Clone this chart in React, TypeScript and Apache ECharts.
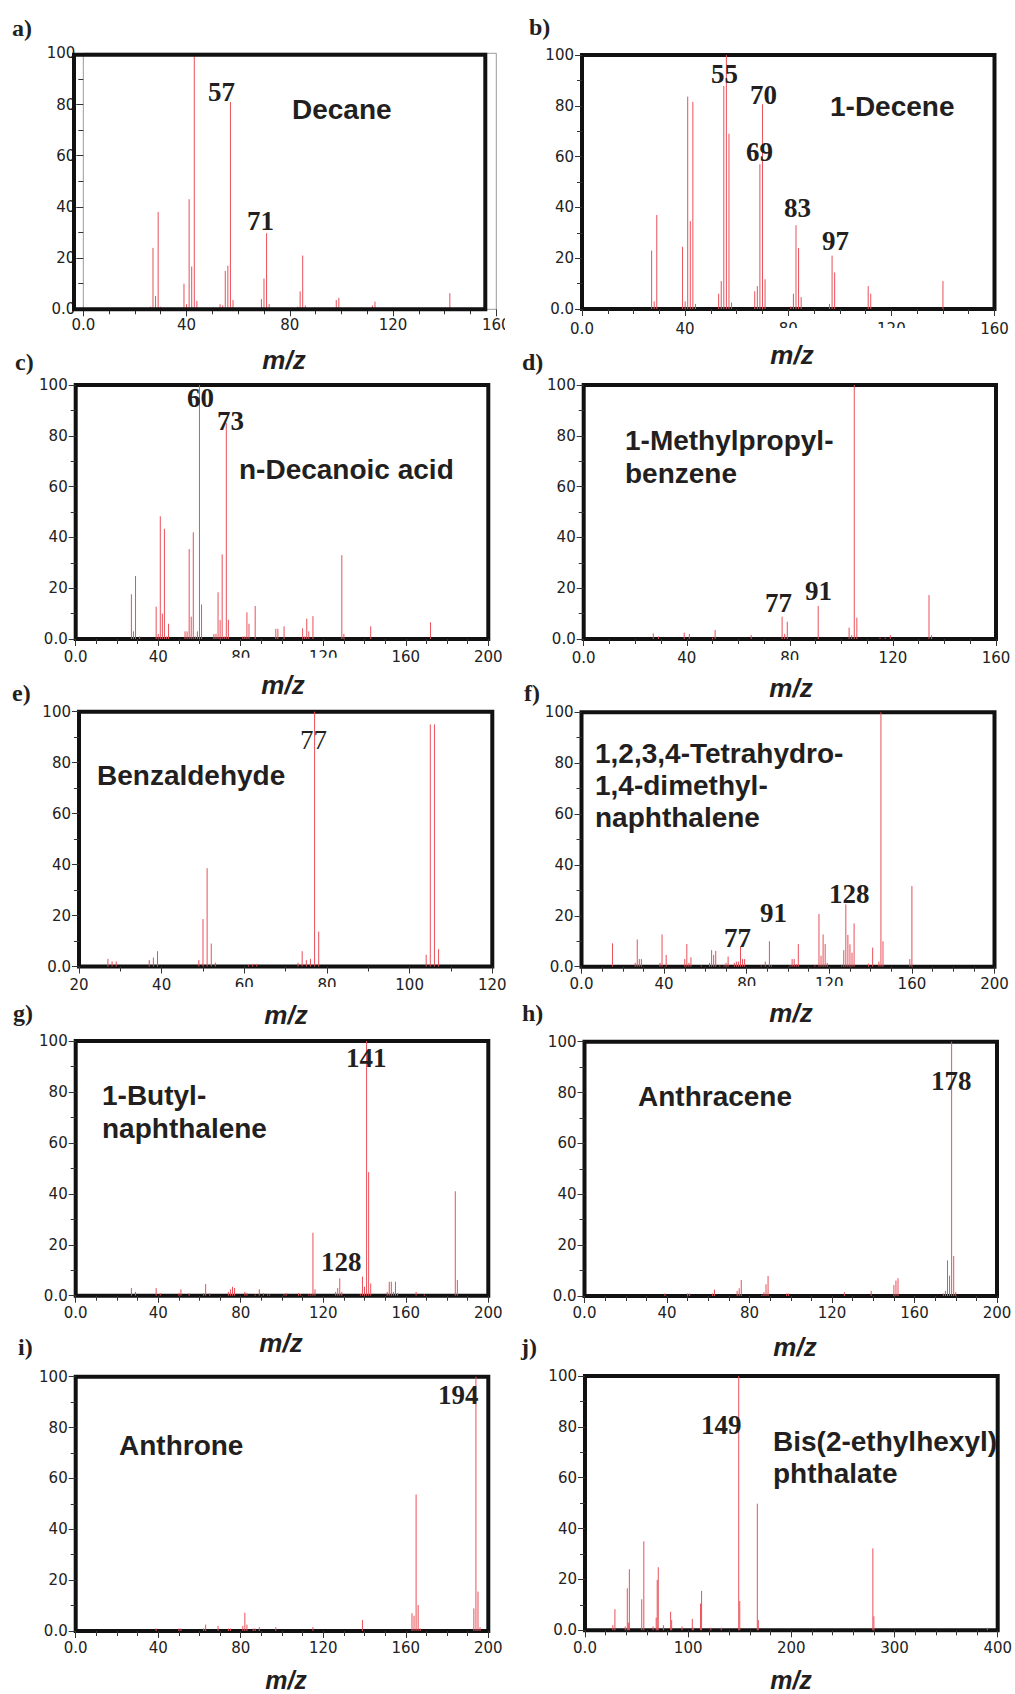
import { useEffect, useRef } from 'react';
import * as echarts from 'echarts';

const W = 1015;
const H = 1694;
const STICK = '#e9505a';
const INK = '#231f20';
const TICK = '#333333';

// ---- EI mass spectra: m/z and relative abundance (%) ----
const decaneMz = [26, 27, 28, 29, 30, 39, 40, 41, 42, 43, 44, 53, 54, 55, 56, 57, 58, 67, 68, 69, 70, 71, 72, 83, 84, 85, 86, 98, 99, 112, 113, 142, 143];
const decaneAb = [1, 24, 5.2, 38, 1, 10, 2, 43, 16.7, 100, 3.3, 2, 1.5, 15, 17, 81, 3.6, 0.5, 0.5, 4, 12, 29.7, 2, 1, 7, 21, 1.5, 3.6, 4.5, 1.5, 3, 6.3, 0.5];
const decaneTags = [57, 71];

const deceneMz = [27, 28, 29, 39, 40, 41, 42, 43, 44, 53, 54, 55, 56, 57, 58, 67, 68, 69, 70, 71, 81, 82, 83, 84, 85, 96, 97, 98, 111, 112, 140];
const deceneAb = [23, 3, 37, 24.5, 3, 83.6, 34.6, 81.5, 2, 6, 11, 87.8, 100, 69, 2.5, 7, 9, 57, 80.6, 11.7, 1, 6, 33, 24, 4.7, 2, 21, 14.4, 9, 6, 11];
const deceneTags = [55, 70, 69, 83, 97];

const decanoicMz = [27, 28, 29, 31, 39, 40, 41, 42, 43, 44, 45, 53, 54, 55, 56, 57, 58, 59, 60, 61, 67, 68, 69, 70, 71, 72, 73, 74, 81, 82, 83, 84, 87, 97, 98, 101, 110, 111, 112, 113, 115, 129, 130, 143, 172];
const decanoicAb = [17.6, 3, 24.8, 1, 12.7, 2, 48.3, 10, 43.4, 1, 6, 3, 3, 35.4, 8.8, 42, 1, 3, 100, 13.6, 2, 2, 18.4, 7.5, 33.3, 1, 85, 7.6, 1, 1, 10.5, 6, 13, 4, 4, 5, 4.2, 1, 8, 3, 9, 33, 2, 5, 6.6];
const decanoicTags = [60, 73];

const butylbenzeneMz = [27, 29, 39, 41, 50, 51, 65, 77, 78, 79, 91, 103, 104, 105, 106, 115, 117, 119, 134, 135];
const butylbenzeneAb = [2.2, 1, 2.5, 2, 0.5, 3.5, 1.5, 8.8, 2, 6.8, 13, 4.5, 1.5, 100, 8.4, 0.5, 0.5, 1.5, 17.3, 1.5];
const butylbenzeneTags = [77, 91];

const benzaldehydeMz = [27, 28, 29, 37, 38, 39, 49, 50, 51, 52, 53, 61, 62, 63, 73, 74, 75, 76, 77, 78, 104, 105, 106, 107];
const benzaldehydeAb = [3, 2, 2, 2.5, 3.5, 6, 2.5, 18.6, 38.6, 9, 1.5, 0.5, 1, 1, 1.5, 6, 2.5, 3, 100, 13.7, 4.6, 95, 95, 6.8];
const benzaldehydeTags = [77];

const tetralinMz = [15, 26, 27, 28, 29, 38, 39, 41, 50, 51, 52, 53, 58, 62, 63, 64, 65, 67, 69, 70, 71, 74, 75, 76, 77, 78, 79, 87, 89, 91, 92, 101, 102, 103, 104, 105, 113, 115, 116, 117, 118, 119, 126, 127, 128, 129, 130, 131, 132, 139, 141, 144, 145, 146, 159, 160];
const tetralinAb = [9.2, 1.5, 10.7, 3, 3, 1.5, 12.7, 4.6, 3, 8.9, 1.5, 3.7, 0.5, 1.5, 6.5, 4.6, 6.2, 0.5, 0.5, 1.5, 4, 1.5, 2, 2, 8, 3, 3, 0.5, 2, 10, 0.5, 0.5, 3, 3, 1, 8.9, 0.5, 20.7, 4.3, 12.7, 8.9, 1.5, 0.5, 6.5, 24.5, 12.5, 8.8, 5.5, 17, 1.2, 7.5, 2, 100, 10, 3, 31.7];
const tetralinTags = [128, 91, 77];

const butylnaphMz = [27, 29, 39, 41, 50, 51, 55, 62, 63, 65, 74, 75, 76, 77, 82, 83, 87, 89, 91, 93, 94, 101, 102, 108, 109, 113, 114, 115, 116, 126, 127, 128, 129, 138, 139, 140, 141, 142, 143, 151, 152, 153, 154, 155, 156, 165, 169, 184, 185];
const butylnaphAb = [3, 1.5, 3, 1, 1, 2.5, 1, 1, 4.6, 1, 1.5, 2.5, 3.5, 3, 1.5, 1, 0.5, 2.5, 1, 0.5, 0.5, 0.5, 1, 1, 0.5, 0.5, 0.5, 24.7, 2.5, 1.5, 3, 6.8, 1.5, 0.5, 7.5, 3.5, 100, 48.5, 4.8, 1.5, 5.5, 5.5, 1.5, 5.5, 1, 1.5, 0.5, 41, 6.2];
const butylnaphTags = [141, 128];

const anthraceneMz = [39, 50, 51, 62, 63, 74, 75, 76, 86, 87, 88, 89, 98, 99, 126, 139, 150, 151, 152, 174, 175, 176, 177, 178, 179, 180];
const anthraceneAb = [1, 1, 1, 1, 2.5, 2, 3, 6.3, 0.5, 1.5, 4.6, 7.9, 1, 1, 1.5, 2, 4.3, 6.1, 7, 1, 2, 14, 8, 100, 15.7, 1.5];
const anthraceneTags = [178];

const anthroneMz = [39, 50, 51, 62, 63, 69, 74, 75, 81, 82, 83, 86, 87, 89, 97, 115, 139, 163, 164, 165, 166, 167, 193, 194, 195, 196];
const anthroneAb = [1, 1, 1, 1, 2.5, 2, 1, 1, 2, 7.2, 2.5, 1, 1, 1.5, 1.5, 1.5, 4.3, 7, 6, 53.7, 10.2, 1, 8.9, 100, 15.5, 1.5];
const anthroneTags = [194];

const dehpMz = [27, 29, 39, 41, 42, 43, 55, 57, 66, 69, 70, 71, 76, 83, 84, 94, 104, 105, 112, 113, 122, 132, 149, 150, 167, 168, 279, 280, 390];
const dehpAb = [2, 8.3, 1.5, 16.5, 3, 24, 12.2, 35, 1.5, 5, 19.8, 24.8, 2, 7.3, 4, 1.5, 4.5, 1, 10.5, 15.5, 1, 1, 100, 11.5, 49.8, 4, 32.2, 5.5, 1];
const dehpTags = [149];

// ---- page layout of the ten panels (pixels) ----
type XY = [number, number];
interface Panel {
  letter: string;
  letterAt: XY;
  box: [number, number, number, number]; // plot area: left, top, right, bottom
  frame?: [number, number, number, number]; // heavy frame drawn apart from the plot area
  xMin: number;
  xMax: number;
  xStep: number;
  xMinor: number;
  xLabelMargin: number;
  mz: number[];
  ab: number[];
  tags: number[];
  tagAt: XY[];
  tagWeight?: string;
  name: string[];
  nameAt: XY;
  nameGap: number;
  mzAt: XY;
  mzSize?: number;
  cover?: [number, number, number, number];
}

const panels: Panel[] = [
  {
    letter: 'a)', letterAt: [12, 28], box: [83.3, 53.3, 496.3, 309.3], frame: [74, 54.7, 411.3, 254.6],
    xMin: 0, xMax: 160, xStep: 40, xMinor: 4, xLabelMargin: 8.2,
    mz: decaneMz, ab: decaneAb, tags: decaneTags, tagAt: [[208, 92], [247, 220.5]],
    name: ['Decane'], nameAt: [292, 109], nameGap: 33, mzAt: [284, 360], cover: [505, 315, 35, 25],
  },
  {
    letter: 'b)', letterAt: [529, 27], box: [582, 55, 994.5, 309],
    xMin: 0, xMax: 160, xStep: 40, xMinor: 4, xLabelMargin: 12.8,
    mz: deceneMz, ab: deceneAb, tags: deceneTags,
    tagAt: [[711, 74], [750, 94.5], [746, 151.5], [784, 207.5], [822, 240.5]],
    name: ['1-Decene'], nameAt: [830, 106.5], nameGap: 33, mzAt: [792, 355], cover: [700, 328, 270, 16],
  },
  {
    letter: 'c)', letterAt: [15, 362], box: [75.7, 385, 488.3, 639],
    xMin: 0, xMax: 200, xStep: 40, xMinor: 4, xLabelMargin: 10.2,
    mz: decanoicMz, ab: decanoicAb, tags: decanoicTags, tagAt: [[187, 397.5], [217, 421]],
    name: ['n-Decanoic acid'], nameAt: [239, 469], nameGap: 33, mzAt: [283, 685], cover: [180, 657.7, 205, 14],
  },
  {
    letter: 'd)', letterAt: [522, 362], box: [583.7, 385, 996, 639],
    xMin: 0, xMax: 160, xStep: 40, xMinor: 4, xLabelMargin: 11.5,
    mz: butylbenzeneMz, ab: butylbenzeneAb, tags: butylbenzeneTags, tagAt: [[765, 602.5], [805, 591]],
    name: ['1-Methylpropyl-', 'benzene'], nameAt: [625, 440.5], nameGap: 33, mzAt: [791, 688], cover: [700, 660, 170, 14],
  },
  {
    letter: 'e)', letterAt: [12, 693], box: [79, 711.7, 492.3, 966.5],
    xMin: 20, xMax: 120, xStep: 20, xMinor: 2, xLabelMargin: 11,
    mz: benzaldehydeMz, ab: benzaldehydeAb, tags: benzaldehydeTags, tagAt: [[300, 740]], tagWeight: 'normal',
    name: ['Benzaldehyde'], nameAt: [97, 775.5], nameGap: 33, mzAt: [286, 1015], cover: [180, 987, 210, 14],
  },
  {
    letter: 'f)', letterAt: [524, 693], box: [581.5, 712.3, 994.5, 966.7],
    xMin: 0, xMax: 200, xStep: 40, xMinor: 4, xLabelMargin: 9.8,
    mz: tetralinMz, ab: tetralinAb, tags: tetralinTags, tagAt: [[829, 894], [760, 912.5], [724, 938]],
    name: ['1,2,3,4-Tetrahydro-', '1,4-dimethyl-', 'naphthalene'], nameAt: [595, 753.5], nameGap: 32, mzAt: [791, 1013],
    cover: [680, 986, 210, 14],
  },
  {
    letter: 'g)', letterAt: [13, 1013], box: [75.7, 1041, 488.3, 1295.7],
    xMin: 0, xMax: 200, xStep: 40, xMinor: 4, xLabelMargin: 9.5,
    mz: butylnaphMz, ab: butylnaphAb, tags: butylnaphTags, tagAt: [[346, 1057.5], [321, 1261.5]],
    name: ['1-Butyl-', 'naphthalene'], nameAt: [102, 1095.3], nameGap: 33, mzAt: [281, 1343],
  },
  {
    letter: 'h)', letterAt: [522, 1013], box: [584.5, 1041.7, 997, 1296],
    xMin: 0, xMax: 200, xStep: 40, xMinor: 4, xLabelMargin: 9.2,
    mz: anthraceneMz, ab: anthraceneAb, tags: anthraceneTags, tagAt: [[931, 1081]],
    name: ['Anthracene'], nameAt: [638, 1096.3], nameGap: 33, mzAt: [795, 1347],
  },
  {
    letter: 'i)', letterAt: [18, 1347], box: [75.7, 1376.7, 488.3, 1631],
    xMin: 0, xMax: 200, xStep: 40, xMinor: 4, xLabelMargin: 9.8,
    mz: anthroneMz, ab: anthroneAb, tags: anthroneTags, tagAt: [[438, 1395]],
    name: ['Anthrone'], nameAt: [119, 1445.3], nameGap: 33, mzAt: [286, 1680], mzSize: 25,
  },
  {
    letter: 'j)', letterAt: [521, 1347], box: [585, 1376, 997.7, 1630.3],
    xMin: 0, xMax: 400, xStep: 100, xMinor: 5, xLabelMargin: 10.5,
    mz: dehpMz, ab: dehpAb, tags: dehpTags, tagAt: [[701, 1424.5]],
    name: ['Bis(2-ethylhexyl)', 'phthalate'], nameAt: [773, 1441.5], nameGap: 32, mzAt: [791, 1680], mzSize: 25,
  },
];

const tickFmt = (v: number) => (v === 0 ? '0.0' : String(v));

const SANS = '"Liberation Sans", Arial, sans-serif';
const SERIF = '"Liberation Serif", "Times New Roman", serif';

function text(x: number, y: number, str: string, font: any, align = 'left') {
  return {
    type: 'text',
    z: 80,
    x,
    y,
    style: {
      text: str,
      fill: INK,
      align,
      verticalAlign: 'middle',
      textAlign: align,
      textVerticalAlign: 'middle',
      ...font,
    },
  };
}

function buildOption() {
  const grid: any[] = [];
  const xAxis: any[] = [];
  const yAxis: any[] = [];
  const series: any[] = [];
  const elements: any[] = [];

  panels.forEach((p, i) => {
    const [l, t, r, b] = p.box;
    grid.push({
      left: l,
      top: t,
      width: r - l,
      height: b - t,
      show: true,
      backgroundColor: 'transparent',
      borderColor: p.frame ? '#9a9a9a' : '#111111',
      borderWidth: p.frame ? 1 : 4,
      containLabel: false,
      outerBoundsMode: 'none',
    });

    xAxis.push({
      type: 'value',
      gridIndex: i,
      min: p.xMin,
      max: p.xMax,
      interval: p.xStep,
      axisLine: { show: false },
      splitLine: { show: false },
      axisTick: { show: true, length: 7, lineStyle: { color: TICK, width: 1 } },
      minorTick: { show: true, splitNumber: p.xMinor, length: 5, lineStyle: { color: TICK, width: 1 } },
      minorSplitLine: { show: false },
      axisLabel: {
        margin: p.xLabelMargin,
        fontFamily: '"DejaVu Sans", sans-serif',
        fontSize: 15,
        color: '#222222',
        formatter: tickFmt,
        showMinLabel: true,
        showMaxLabel: true,
      },
    });

    yAxis.push({
      type: 'value',
      gridIndex: i,
      min: 0,
      max: 100,
      interval: 20,
      axisLine: { show: false },
      splitLine: { show: false },
      axisTick: { show: true, length: 7, lineStyle: { color: TICK, width: 1 } },
      minorTick: { show: true, splitNumber: 2, length: 5, lineStyle: { color: TICK, width: 1 } },
      minorSplitLine: { show: false },
      axisLabel: {
        margin: 8,
        fontFamily: '"DejaVu Sans", sans-serif',
        fontSize: 15,
        color: '#222222',
        formatter: tickFmt,
        showMinLabel: true,
        showMaxLabel: true,
      },
    });

    // one stick per fragment ion, drawn from the baseline up to its abundance
    series.push({
      type: 'custom',
      xAxisIndex: i,
      yAxisIndex: i,
      silent: true,
      z: 3,
      encode: { x: 0, y: 1 },
      data: p.mz.map((m, k) => [m, p.ab[k]]),
      renderItem: (_params: any, api: any) => {
        const m = api.value(0);
        const h = api.value(1);
        const top = api.coord([m, h]);
        const base = api.coord([m, 0]);
        return {
          type: 'line',
          shape: { x1: top[0], y1: top[1], x2: base[0], y2: base[1] },
          style: { stroke: STICK, lineWidth: 1 },
        };
      },
    });

    if (p.frame) {
      const [fx, fy, fw, fh] = p.frame;
      elements.push({
        type: 'rect',
        z: 50,
        shape: { x: fx, y: fy, width: fw, height: fh },
        style: { fill: 'none', stroke: '#111111', lineWidth: 4 },
      });
    }

    if (p.cover) {
      const [cx, cy, cw, ch] = p.cover;
      elements.push({
        type: 'rect',
        z: 60,
        shape: { x: cx, y: cy, width: cw, height: ch },
        style: { fill: '#ffffff', stroke: 'none' },
      });
    }

    elements.push(
      text(p.letterAt[0], p.letterAt[1], p.letter, {
        fontFamily: SERIF,
        fontSize: 24,
        fontWeight: 'bold',
      })
    );

    p.name.forEach((line, k) => {
      elements.push(
        text(p.nameAt[0], p.nameAt[1] + k * p.nameGap, line, {
          fontFamily: SANS,
          fontSize: 28,
          fontWeight: 'bold',
        })
      );
    });

    p.tags.forEach((v, k) => {
      elements.push(
        text(p.tagAt[k][0], p.tagAt[k][1], String(v), {
          fontFamily: SERIF,
          fontSize: 27,
          fontWeight: p.tagWeight || 'bold',
        })
      );
    });

    elements.push(
      text(
        p.mzAt[0],
        p.mzAt[1],
        'm/z',
        { fontFamily: SANS, fontSize: p.mzSize || 26, fontWeight: 'bold', fontStyle: 'italic' },
        'center'
      )
    );
  });

  return {
    animation: false,
    backgroundColor: '#ffffff',
    grid,
    xAxis,
    yAxis,
    series,
    graphic: { elements },
  };
}

export default function App() {
  const ref = useRef<HTMLDivElement>(null);

  useEffect(() => {
    if (!ref.current) return;
    const chart = echarts.init(ref.current, null, { renderer: 'svg', width: W, height: H });
    chart.setOption(buildOption() as any);
    return () => {
      chart.dispose();
    };
  }, []);

  return (
    <div
      ref={ref}
      style={{ position: 'absolute', left: 0, top: 0, width: W, height: H, background: '#ffffff' }}
    />
  );
}
